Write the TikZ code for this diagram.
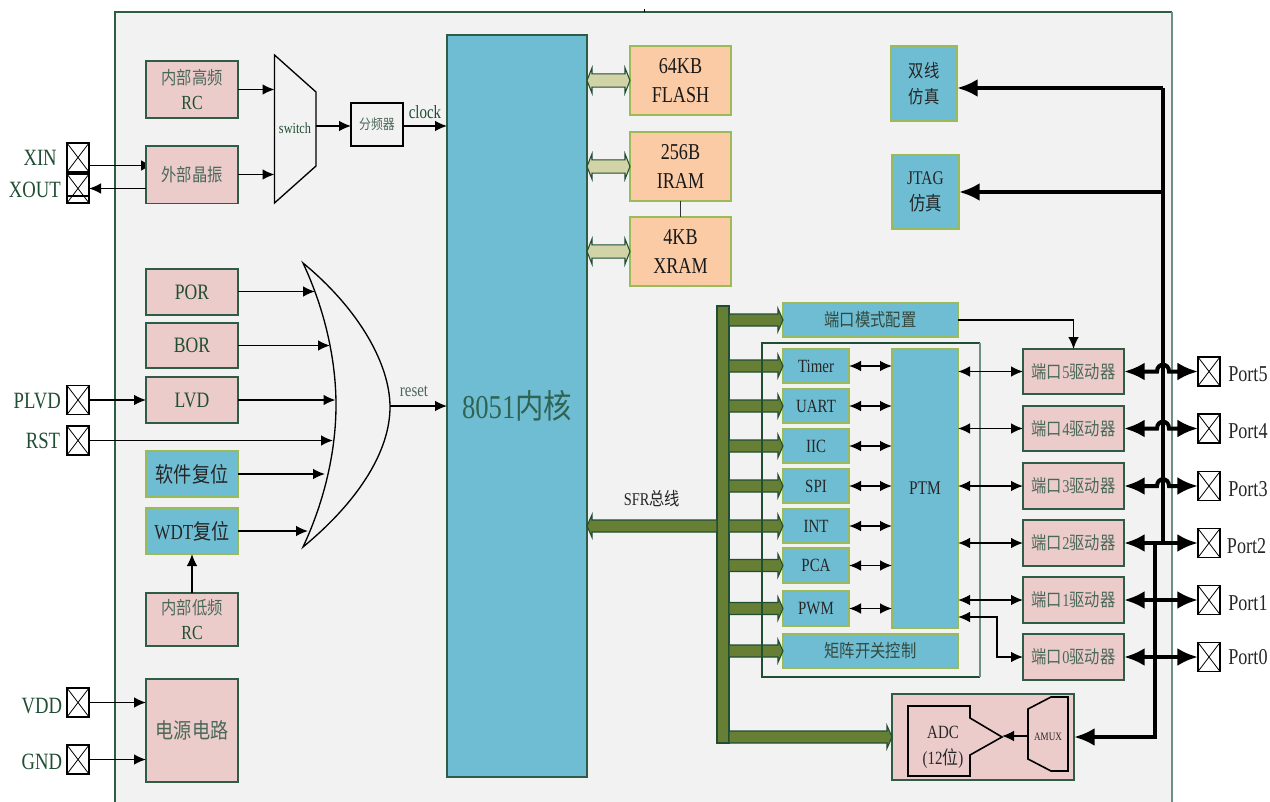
\documentclass[tikz,border=0pt]{standalone}
\usepackage{fontspec}
\setmainfont[FakeStretch=0.8]{Liberation Serif}
\newfontfamily\cjk[FakeStretch=0.85]{Noto Sans CJK SC}
\usetikzlibrary{arrows.meta}
\usetikzlibrary{calc}
\usetikzlibrary{positioning}
\definecolor{framegreen}{HTML}{2E5C46}
\definecolor{framepale}{HTML}{6D9080}
\definecolor{panelgray}{HTML}{F2F2F2}
\definecolor{cellblue}{HTML}{6FBDD3}
\definecolor{cellpink}{HTML}{ECCCCB}
\definecolor{cellorange}{HTML}{FBCBA5}
\definecolor{edgeolive}{HTML}{9BBB59}
\definecolor{busgreen}{HTML}{667F35}
\definecolor{buspale}{HTML}{D2D4A8}
\definecolor{labelgreen}{HTML}{1F4E33}
\definecolor{softgreen}{HTML}{4A6858}
\newcommand{\zh}[1]{{\cjk #1}}
\newcommand{\zhsoft}[1]{{\color{softgreen}\cjk #1}}
\newcommand{\sizept}[2]{\fontsize{#1}{#2}\selectfont}
\tikzset{
	pinkcell/.style={draw=framegreen,fill=cellpink,line width=1pt,inner sep=0pt,outer sep=0pt,text=labelgreen,font={\sizept{13.5}{19}}},
	bluecell/.style={draw=edgeolive,fill=cellblue,line width=1pt,inner sep=0pt,outer sep=0pt,text=black!85,font={\sizept{14}{19.5}}},
	memcell/.style={draw=edgeolive,fill=cellorange,line width=1pt,inner sep=0pt,outer sep=0pt,text=black!90,font={\sizept{17}{21.75}}},
	padcell/.style={draw=black,fill=white,line width=1pt,inner sep=0pt,outer sep=0pt,minimum width=16.5pt,minimum height=21.75pt,
		path picture={\draw[line width=0.6pt] (path picture bounding box.north west) -- (path picture bounding box.south east);
		\draw[line width=0.6pt] (path picture bounding box.north east) -- (path picture bounding box.south west);}},
	padtext/.style={inner sep=0pt,text=labelgreen,font={\sizept{17.5}{20}}},
	porttext/.style={inner sep=0pt,text=black!85,font={\sizept{17}{20}},yshift=-2pt},
	wire/.style={draw=black,line width=1.1pt,-{Latex[length=9pt,width=8pt]}},
	iowire/.style={draw=black,line width=1.1pt,{Latex[length=9pt,width=8pt]}-{Latex[length=9pt,width=8pt]}},
	bigwire/.style={draw=black,line width=3pt},
	bigtip/.style={-{Latex[length=15.5pt,width=13.5pt]}},
	bigio/.style={bigwire,{Latex[length=15.5pt,width=13.5pt]}-{Latex[length=15.5pt,width=13.5pt]}},
	gate/.style={draw=black,line width=1pt},
	sfrbus/.style={draw=labelgreen,fill=busgreen,line width=0.8pt},
	membus/.style={draw=labelgreen,fill=buspale,line width=0.8pt}
}
\newcommand{\blk}[7] % style, name, left, top, right, bottom, text
{
	\node[#1,align=center,minimum width={(#5-#3)*0.75pt},minimum height={(#6-#4)*0.75pt}] (#2) at ({(#3+#5)/2},{(#4+#6)/2}) {#7};
}
\newcommand{\fatarrow}[3] % style, tail, tip
{
	\coordinate (fatbase) at ($(#3)!3.75pt!(#2)$);
	\draw[#1] ($(#2)+(0,4.5pt)$) -- ($(fatbase)+(0,4.5pt)$) -- ($(fatbase)+(0,8.5pt)$) -- (#3)
		-- ($(fatbase)+(0,-8.5pt)$) -- ($(fatbase)+(0,-4.5pt)$) -- ($(#2)+(0,-4.5pt)$) -- cycle;
}
\newcommand{\fatboth}[3] % style, end, end
{
	\coordinate (fatbasea) at ($(#2)!3.75pt!(#3)$);
	\coordinate (fatbaseb) at ($(#3)!3.75pt!(#2)$);
	\draw[#1] (#2) -- ($(fatbasea)+(0,9.5pt)$) -- ($(fatbasea)+(0,5pt)$) -- ($(fatbaseb)+(0,5pt)$) -- ($(fatbaseb)+(0,9.5pt)$) -- (#3)
		-- ($(fatbaseb)+(0,-9.5pt)$) -- ($(fatbaseb)+(0,-5pt)$) -- ($(fatbasea)+(0,-5pt)$) -- ($(fatbasea)+(0,-9.5pt)$) -- cycle;
}
\newcommand{\hopwire}[2] % driver, pad
{
	\draw[bigio] (#1.east) -- ++(33,0) .. controls +(0,-9) and +(0,-9) .. ++(12,0) -- (#2.west);
}
\begin{document}
\begin{tikzpicture}[x=0.75pt,y=-0.75pt]
	\useasboundingbox (0,0) rectangle (1270,802);
	% chip outline, open at the bottom
	\fill[panelgray] (115,12) rectangle (1172,802);
	\draw[framegreen,line width=1pt] (115,802) -- (115,12) -- (1172,12);
	\draw[framepale,line width=1.2pt] (1172,12) -- (1172,802);
	\draw[line width=0.6pt] (644,9) -- (644,12);

	% pads left
	\blk{padcell}{xinpad}{67}{143}{89}{172}{};
	\blk{padcell}{xoutpad}{67}{174}{89}{203}{};
	\draw[line width=0.8pt] (xoutpad.west |- 0,196) -- (xoutpad.east |- 0,196);
	\blk{padcell}{plvdpad}{67}{385.5}{89}{414.5}{};
	\blk{padcell}{rstpad}{67}{426}{89}{455}{};
	\blk{padcell}{vddpad}{67}{688}{89}{717}{};
	\blk{padcell}{gndpad}{67}{745}{89}{774}{};
	\node[padtext,left=7.5pt of xinpad] (xinlabel) {XIN};
	\node[padtext,left=4.5pt of xoutpad,yshift=-0.75pt] (xoutlabel) {XOUT};
	\node[padtext,left=4.5pt of plvdpad,yshift=-0.75pt] (plvdlabel) {PLVD};
	\node[padtext,left=5pt of rstpad] (rstlabel) {RST};
	\node[padtext,left=3.5pt of vddpad,yshift=-3pt] (vddlabel) {VDD};
	\node[padtext,left=3.5pt of gndpad,yshift=-1.5pt] (gndlabel) {GND};

	% clock
	\coordinate (xtalin) at (153,165.5);
	\draw[wire] (xinpad.east |- xtalin) -- (xtalin);
	\blk{pinkcell}{hfrc}{146}{61}{238}{118}{\zhsoft{内部高频}\\{\sizept{15}{19}RC}};
	\blk{pinkcell}{xtal}{146}{146}{238}{203.5}{\zhsoft{外部晶振}};
	\draw[wire] (xtal.west |- xoutpad.east) -- (xoutpad.east);
	\draw[gate,fill=panelgray] (274.5,55) -- (316,92) -- (316,166) -- (274.5,203) -- cycle;
	\node[inner sep=0pt,text=labelgreen,font={\sizept{11.5}{14}}] (swlabel) at (295,128) {switch};
	\coordinate (swhf) at (274.5,89.5);
	\coordinate (swxt) at (274.5,174.5);
	\coordinate (swout) at (316,126);
	\draw[wire] (hfrc.east |- swhf) -- (swhf);
	\draw[wire] (xtal.east |- swxt) -- (swxt);
	\blk{gate,line width=0.9pt,inner sep=0pt,outer sep=0pt,text=softgreen,font={\sizept{10.5}{14}}}{divider}{351}{103}{403}{146}{\zh{分频器}};
	\blk{draw=framegreen,fill=cellblue,line width=1pt,inner sep=0pt,outer sep=0pt,text=labelgreen!80!cellblue,font={\sizept{25}{30}}}{core}{447}{35}{587}{777}{8051\zh{内核}};
	\draw[wire] (swout) -- (divider.west |- swout);
	\draw[wire] (divider.east |- swout) -- (core.west |- swout);
	\node[inner sep=0pt,text=labelgreen,font={\sizept{14}{16}}] (clocklabel) at (425,112) {clock};

	% reset
	\blk{pinkcell,font={\sizept{16.5}{19}}}{por}{146}{269}{238}{315}{POR};
	\blk{pinkcell,font={\sizept{16.5}{19}}}{bor}{146}{323}{238}{368}{BOR};
	\blk{pinkcell,font={\sizept{16.5}{19}}}{lvd}{146}{377}{238}{423}{LVD};
	\blk{bluecell,font={\sizept{16}{19}}}{softrst}{146}{451}{238}{497}{\zh{软件复位}};
	\blk{bluecell,font={\sizept{16}{19}}}{wdt}{146}{508}{238}{554}{WDT\zh{复位}};
	\blk{pinkcell}{lfrc}{146}{593}{238}{646}{\zhsoft{内部低频}\\{\sizept{15}{19}RC}};
	\blk{pinkcell,font={\sizept{16}{19}}}{power}{146}{679}{238}{782}{\zhsoft{电源电路}};
	\draw[wire] (lfrc.north) -- (wdt.south);
	\draw[gate] (303,263) .. controls (325,310) and (336,360) .. (336,405) .. controls (336,450) and (325,500) .. (303,547)
		.. controls (360,500) and (390,450) .. (390,407) .. controls (390,365) and (360,310) .. (303,263) -- cycle;
	\coordinate (orpor) at (315,291.5);
	\coordinate (orbor) at (330,345.5);
	\coordinate (orlvd) at (335.5,400);
	\coordinate (orrst) at (333,440.5);
	\coordinate (orsoft) at (325,474);
	\coordinate (orwdt) at (308,531);
	\coordinate (orout) at (390,406);
	\draw[wire] (por.east |- orpor) -- (orpor);
	\draw[wire] (bor.east |- orbor) -- (orbor);
	\draw[wire] (lvd.east) -- (orlvd);
	\draw[wire] (rstpad.east) -- (orrst);
	\draw[wire] (softrst.east) -- (orsoft);
	\draw[wire] (wdt.east) -- (orwdt);
	\draw[wire] (orout) -- (core.west |- orout);
	\draw[wire] (plvdpad.east) -- (lvd.west);
	\draw[wire] (vddpad.east) -- (power.west |- vddpad.east);
	\draw[wire] (gndpad.east) -- (power.west |- gndpad.east);
	\node[inner sep=0pt,text=softgreen,font={\sizept{14}{15}}] (resetlabel) at (414,391) {reset};

	% memories
	\blk{memcell}{flash}{630}{46}{731}{115}{64KB\\FLASH};
	\blk{memcell}{iram}{630}{132}{731}{201}{256B\\IRAM};
	\blk{memcell}{xram}{630}{217}{731}{286}{4KB\\XRAM};
	\draw[line width=0.8pt,black!80] (iram.south) -- (xram.north);
	\fatboth{membus}{core.east |- flash.west}{flash.west};
	\fatboth{membus}{core.east |- iram.west}{iram.west};
	\fatboth{membus}{core.east |- xram.west}{xram.west};

	% debug
	\blk{bluecell,font={\sizept{13.5}{19.5}}}{swd}{891}{46}{957}{121}{\zh{双线}\\\zh{仿真}};
	\blk{bluecell,font={\sizept{14.5}{19}}}{jtag}{892}{155}{959}{229}{JTAG\\\zh{仿真}};

	% peripherals
	\blk{sfrbus,inner sep=0pt,outer sep=0pt}{sfrbar}{717}{306}{729}{743}{};
	\blk{bluecell,text=softgreen!70!black,font={\sizept{13.5}{19}}}{modecfg}{783}{303}{958}{337}{\zh{端口模式配置}};
	\blk{bluecell}{timer}{783}{349}{849}{383}{Timer};
	\blk{bluecell}{uart}{783}{389}{849}{423}{UART};
	\blk{bluecell}{iic}{783}{429}{849}{463}{IIC};
	\blk{bluecell}{spi}{783}{469}{849}{503}{SPI};
	\blk{bluecell}{intr}{783}{509}{849}{543}{INT};
	\blk{bluecell}{pca}{783}{548}{849}{583}{PCA};
	\blk{bluecell}{pwm}{783}{591}{849}{626}{PWM};
	\blk{bluecell,text=softgreen!70!black,font={\sizept{13.5}{19}}}{matrix}{783}{634}{958}{668}{\zh{矩阵开关控制}};
	\blk{bluecell,font={\sizept{14.5}{19}},text depth=-2pt}{ptm}{892}{349}{958}{628}{PTM};
	\blk{pinkcell,text=black!85,font={\sizept{14}{19.5}}}{adcbox}{892}{694}{1074}{780}{};
	\fatarrow{sfrbus}{sfrbar.west |- intr.west}{core.east |- intr.west};
	\fatarrow{sfrbus}{sfrbar.east |- modecfg.west}{modecfg.west};
	\fatarrow{sfrbus}{sfrbar.east |- timer.west}{timer.west};
	\fatarrow{sfrbus}{sfrbar.east |- uart.west}{uart.west};
	\fatarrow{sfrbus}{sfrbar.east |- iic.west}{iic.west};
	\fatarrow{sfrbus}{sfrbar.east |- spi.west}{spi.west};
	\fatarrow{sfrbus}{sfrbar.east |- intr.west}{intr.west};
	\fatarrow{sfrbus}{sfrbar.east |- pca.west}{pca.west};
	\fatarrow{sfrbus}{sfrbar.east |- pwm.west}{pwm.west};
	\fatarrow{sfrbus}{sfrbar.east |- matrix.west}{matrix.west};
	\fatarrow{sfrbus}{sfrbar.east |- adcbox.west}{adcbox.west};
	\draw[labelgreen,line width=0.8pt] (980,677) -- (762,677) -- (762,343) -- (980,343);
	\draw[framepale,line width=1.1pt] (980,343) -- (980,677);
	\node[inner sep=0pt,text=black!85,font={\sizept{13.5}{16}}] (sfrlabel) at (652,499) {SFR\zh{总线}};
	\draw[iowire] (timer.east) -- (ptm.west |- timer.east);
	\draw[iowire] (uart.east) -- (ptm.west |- uart.east);
	\draw[iowire] (iic.east) -- (ptm.west |- iic.east);
	\draw[iowire] (spi.east) -- (ptm.west |- spi.east);
	\draw[iowire] (intr.east) -- (ptm.west |- intr.east);
	\draw[iowire] (pca.east) -- (ptm.west |- pca.east);
	\draw[iowire] (pwm.east) -- (ptm.west |- pwm.east);

	% port drivers
	\blk{pinkcell,text=softgreen}{drvfive}{1023}{349}{1124}{394}{\zh{端口}5\zh{驱动器}};
	\blk{pinkcell,text=softgreen}{drvfour}{1023}{406}{1124}{451}{\zh{端口}4\zh{驱动器}};
	\blk{pinkcell,text=softgreen}{drvthree}{1023}{463}{1124}{509}{\zh{端口}3\zh{驱动器}};
	\blk{pinkcell,text=softgreen}{drvtwo}{1023}{520}{1124}{566}{\zh{端口}2\zh{驱动器}};
	\blk{pinkcell,text=softgreen}{drvone}{1023}{577}{1124}{623}{\zh{端口}1\zh{驱动器}};
	\blk{pinkcell,text=softgreen}{drvzero}{1023}{634}{1124}{680}{\zh{端口}0\zh{驱动器}};
	\draw[iowire] (drvfive.west) -- (ptm.east |- drvfive.west);
	\draw[iowire] (drvfour.west) -- (ptm.east |- drvfour.west);
	\draw[iowire] (drvthree.west) -- (ptm.east |- drvthree.west);
	\draw[iowire] (drvtwo.west) -- (ptm.east |- drvtwo.west);
	\draw[iowire] (drvone.west) -- (ptm.east |- drvone.west);
	\draw[iowire] (drvzero.west) -- ++(-26,0) |- (ptm.east |- 0,617);
	\draw[wire] (modecfg.east) -| (drvfive.north);

	% pads right
	\blk{padcell}{padfive}{1198}{357}{1220}{386}{};
	\blk{padcell}{padfour}{1198}{414}{1220}{443}{};
	\blk{padcell}{padthree}{1198}{471.5}{1220}{500.5}{};
	\blk{padcell}{padtwo}{1198}{528.5}{1220}{557.5}{};
	\blk{padcell}{padone}{1198}{585.5}{1220}{614.5}{};
	\blk{padcell}{padzero}{1198}{642.5}{1220}{671.5}{};
	\node[porttext,right=6pt of padfive] (portfive) {Port5};
	\node[porttext,right=6pt of padfour] (portfour) {Port4};
	\node[porttext,right=6pt of padthree] (portthree) {Port3};
	\node[porttext,right=5pt of padtwo] (porttwo) {Port2};
	\node[porttext,right=6pt of padone] (portone) {Port1};
	\node[porttext,right=6pt of padzero,yshift=2pt] (portzero) {Port0};

	% thick lines
	\coordinate (bustop) at (1163,88);
	\coordinate (busjtag) at (1163,192);
	\coordinate (busmid) at (1163,543);
	\coordinate (buslow) at (1155,543);
	\draw[bigwire] (bustop) -- (busmid);
	\draw[bigwire,bigtip] (bustop) -- (bustop -| swd.east);
	\draw[bigwire,bigtip] (busjtag) -- (busjtag -| jtag.east);
	\draw[bigwire,bigtip] (buslow) |- (adcbox.east);
	\hopwire{drvfive}{padfive};
	\hopwire{drvfour}{padfour};
	\hopwire{drvthree}{padthree};
	\draw[bigio] (drvtwo.east) -- (padtwo.west);
	\draw[bigio] (drvone.east) -- (padone.west);
	\draw[bigio] (drvzero.east) -- (padzero.west);

	% adc
	\draw[gate,line width=1.2pt] (908,706) -- (970,706) -- (970,718) -- (1002,737) -- (970,755) -- (970,776) -- (908,776) -- cycle;
	\draw[gate,line width=1.2pt] (1028,709) -- (1051,697) -- (1068,697) -- (1068,771) -- (1051,771) -- (1028,759) -- cycle;
	\coordinate (adcin) at (1002,736);
	\coordinate (amuxout) at (1028,736);
	\draw[wire] (amuxout) -- (adcin);
	\node[inner sep=0pt,align=center,text=black!85,font={\sizept{14}{19.5}}] (adclabel) at (943,747) {ADC\\(12\zh{位})};
	\node[inner sep=0pt,text=black!85,font={\sizept{8.5}{10}}] (amuxlabel) at (1048,737) {AMUX};
\end{tikzpicture}
\end{document}
